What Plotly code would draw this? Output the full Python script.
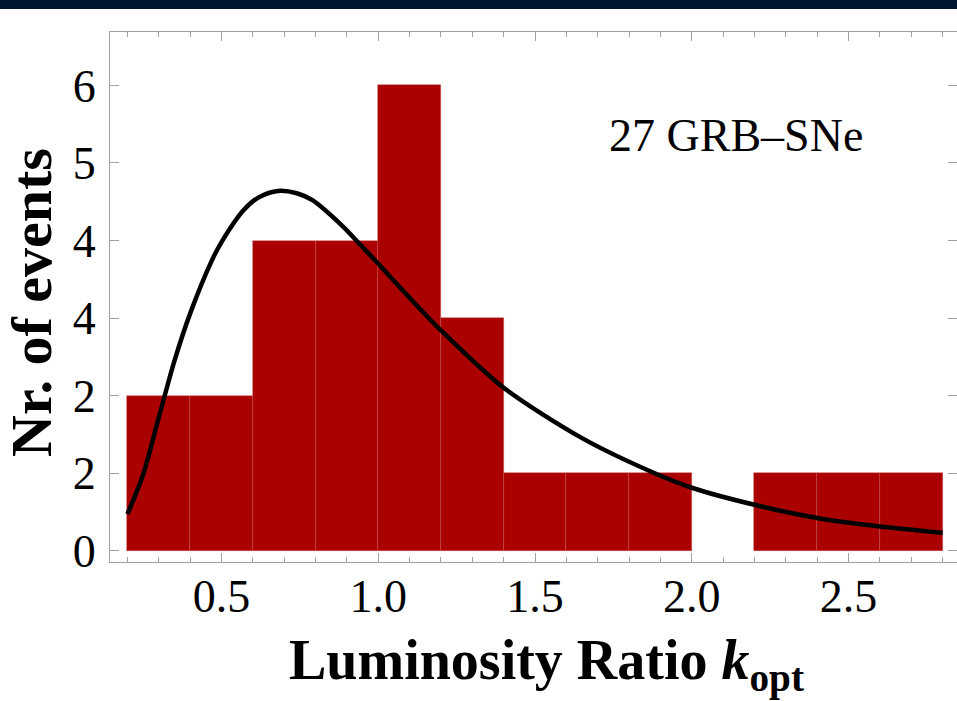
import plotly.graph_objects as go

# Histogram data (bin centres, width 0.2)
bin_centers = [0.3, 0.5, 0.7, 0.9, 1.1, 1.3, 1.5, 1.7, 1.9, 2.1, 2.3, 2.5, 2.7]
counts = [2, 2, 4, 4, 6, 3, 1, 1, 1, 0, 1, 1, 1]
bin_width = 0.2

# Fitted curve
curve_x = [0.20, 0.25, 0.30, 0.35, 0.40, 0.47, 0.50, 0.57, 0.62, 0.68, 0.74, 0.79, 0.89, 0.93,
           1.00, 1.10, 1.20, 1.40, 1.65, 1.88, 2.00, 2.20, 2.40, 2.60, 2.80]
curve_y = [0.47, 0.98, 1.72, 2.45, 3.06, 3.75, 3.98, 4.39, 4.56, 4.64, 4.61, 4.52, 4.17, 4.00,
           3.70, 3.26, 2.84, 2.10, 1.45, 1.00, 0.81, 0.59, 0.42, 0.31, 0.23]

y_tickvals = [0, 1, 2, 3, 4, 5, 6]
y_ticktext = ["0", "2", "2", "4", "4", "5", "6"]
x_tickvals = [0.5, 1.0, 1.5, 2.0, 2.5]
x_ticktext = ["0.5", "1.0", "1.5", "2.0", "2.5"]

serif = "Liberation Serif, Times New Roman, serif"

fig = go.Figure()
fig.add_trace(go.Bar(
    x=bin_centers, y=counts, width=bin_width,
    marker=dict(color="#AA0000",
                line=dict(color="rgba(200,80,80,0.7)",
                          width=[0.6 if c > 0 else 0 for c in counts])),
    showlegend=False, hoverinfo="skip",
))
fig.add_trace(go.Scatter(
    x=curve_x, y=curve_y, mode="lines",
    line=dict(color="black", width=4.5, shape="spline", smoothing=0.8),
    showlegend=False, hoverinfo="skip",
))

axis_common = dict(
    showline=True, linecolor="#a0a0a0", linewidth=1, mirror="ticks",
    ticks="inside", tickcolor="#a0a0a0", tickwidth=1,
    showgrid=False, zeroline=False,
    tickfont=dict(family=serif, size=46, color="black"),
)

fig.update_layout(
    width=957, height=701,
    margin=dict(l=110, r=0, t=32, b=139),
    paper_bgcolor="white", plot_bgcolor="white",
    bargap=0,
    xaxis=dict(
        range=[0.1442, 2.846], tickvals=x_tickvals, ticktext=x_ticktext,
        ticklen=9, minor=dict(dtick=0.1, tick0=0, ticks="inside", ticklen=5, tickcolor="#a0a0a0"),
        ticklabelstandoff=-6, **axis_common,
    ),
    yaxis=dict(
        range=[-0.148, 6.69], tickvals=y_tickvals, ticktext=y_ticktext,
        ticklen=9, ticklabelstandoff=4, **axis_common,
    ),
    shapes=[dict(type="rect", xref="paper", yref="paper",
                 x0=-0.14, x1=1.01, y0=1.0434, y1=1.07,
                 fillcolor="#02152F", line=dict(width=0), layer="above")],
    annotations=[
        dict(x=1.731, y=5.36, xref="x", yref="y", text="27 GRB\u2013SNe",
             showarrow=False, xanchor="left", yanchor="middle",
             font=dict(family=serif, size=46, color="black")),
        dict(x=0.515, y=-0.194, xref="paper", yref="paper",
             text="<b>Luminosity Ratio <i>k</i><sub>opt</sub></b>",
             showarrow=False, xanchor="center", yanchor="middle",
             font=dict(family=serif, size=56, color="black")),
        dict(x=-0.092, y=0.489, xref="paper", yref="paper",
             text="<b>Nr. of events</b>", textangle=-90,
             showarrow=False, xanchor="center", yanchor="middle",
             font=dict(family=serif, size=58, color="black")),
    ],
)

fig.write_html("out.html")
